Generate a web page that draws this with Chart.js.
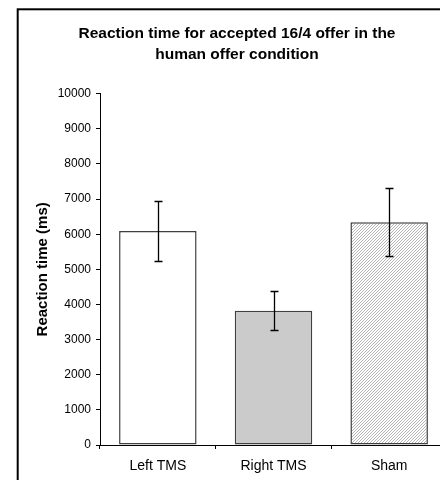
<!DOCTYPE html>
<html>
<head>
<meta charset="utf-8">
<script src="https://cdn.jsdelivr.net/npm/chart.js@4"></script>
<style>
  html, body { margin: 0; padding: 0; background: #fff; overflow: hidden; width: 440px; height: 480px; }
  canvas { display: block; }
</style>
</head>
<body>
<canvas id="rt" width="474" height="480"></canvas>
<script>
// Conditions and mean reaction times (ms) with their error margins
const categories = ['Left TMS', 'Right TMS', 'Sham'];
const meanRT = [6090, 3820, 6340];
const errRT = [855, 560, 970];
const yTicks = [0, 1000, 2000, 3000, 4000, 5000, 6000, 7000, 8000, 9000, 10000];
const titleLines = ['Reaction time for accepted 16/4 offer in the', 'human offer condition'];
const yTitle = 'Reaction time (ms)';

const canvas = document.getElementById('rt');
const ctx = canvas.getContext('2d');

// Fine diagonal hatch used for the Sham bar
function diagonalHatch() {
  const tile = document.createElement('canvas');
  tile.width = 3; tile.height = 3;
  const t = tile.getContext('2d');
  t.fillStyle = '#ffffff';
  t.fillRect(0, 0, 3, 3);
  t.fillStyle = '#b4b4b4';
  for (let i = 0; i < 3; i++) t.fillRect(i, 2 - i, 1, 1);
  return ctx.createPattern(tile, 'repeat');
}

const FONT = "'Liberation Sans', Arial, Helvetica, sans-serif";

// White page with the outer chart frame
const framePlugin = {
  id: 'frame',
  beforeDraw(chart) {
    const c = chart.ctx;
    c.save();
    c.fillStyle = '#ffffff';
    c.fillRect(0, 0, chart.width, chart.height);
    c.strokeStyle = '#000000';
    c.lineWidth = 2;
    c.strokeRect(17.7, 9.3, 700, 700);
    c.restore();
  }
};

// Vertical error bars with caps, placed through the y scale
const errorBarPlugin = {
  id: 'errorBars',
  afterDatasetsDraw(chart) {
    const c = chart.ctx;
    const y = chart.scales.y;
    const meta = chart.getDatasetMeta(0);
    c.save();
    c.strokeStyle = '#000000';
    c.lineWidth = 1.3;
    meta.data.forEach((bar, i) => {
      const cx = Math.round(bar.x) + 0.5;
      const hi = Math.round(y.getPixelForValue(meanRT[i] + errRT[i])) + 0.5;
      const lo = Math.round(y.getPixelForValue(meanRT[i] - errRT[i])) + 0.5;
      c.beginPath();
      c.moveTo(cx, hi); c.lineTo(cx, lo);
      c.moveTo(cx - 4, hi); c.lineTo(cx + 4, hi);
      c.moveTo(cx - 4, lo); c.lineTo(cx + 4, lo);
      c.stroke();
    });
    c.restore();
  }
};

new Chart(ctx, {
  type: 'bar',
  data: {
    labels: categories,
    datasets: [{
      data: meanRT,
      backgroundColor: ['#ffffff', '#cbcbcb', diagonalHatch()],
      borderColor: '#404040',
      borderWidth: 1.5,
      borderSkipped: false,
      categoryPercentage: 1,
      barPercentage: 0.67
    }]
  },
  options: {
    responsive: false,
    devicePixelRatio: 1,
    animation: false,
    events: [],
    layout: { padding: { left: 27, right: 27, top: 0, bottom: 0 } },
    plugins: {
      legend: { display: false },
      tooltip: { enabled: false },
      title: {
        display: true,
        text: titleLines,
        color: '#000000',
        font: { family: FONT, size: 15.5, weight: 'bold', lineHeight: 1.36 },
        padding: { top: 23.5, bottom: 28 }
      }
    },
    scales: {
      x: {
        type: 'category',
        offset: true,
        grid: { display: true, offset: true, drawOnChartArea: false, drawTicks: true, tickLength: 4, color: '#000000' },
        border: { display: true, color: '#000000', width: 1 },
        ticks: { color: '#000000', padding: 9, font: { family: FONT, size: 14 }, maxRotation: 0 },
        afterFit(scale) { scale.height = 35; }
      },
      y: {
        min: 0,
        max: 10000,
        afterBuildTicks(scale) { scale.ticks = yTicks.map(v => ({ value: v })); },
        grid: { display: true, drawOnChartArea: false, drawTicks: true, tickLength: 4, color: '#000000' },
        border: { display: true, color: '#000000', width: 1 },
        ticks: {
          color: '#000000',
          padding: 5,
          font: { family: FONT, size: 12 },
          callback: (v) => String(v)
        },
        title: {
          display: true,
          text: yTitle,
          color: '#000000',
          font: { family: FONT, size: 15, weight: 'bold', lineHeight: 1.2 },
          padding: { top: 7, bottom: 0 }
        },
        afterFit(scale) { scale.width = 73; }
      }
    }
  },
  plugins: [framePlugin, errorBarPlugin]
});
</script>
</body>
</html>
